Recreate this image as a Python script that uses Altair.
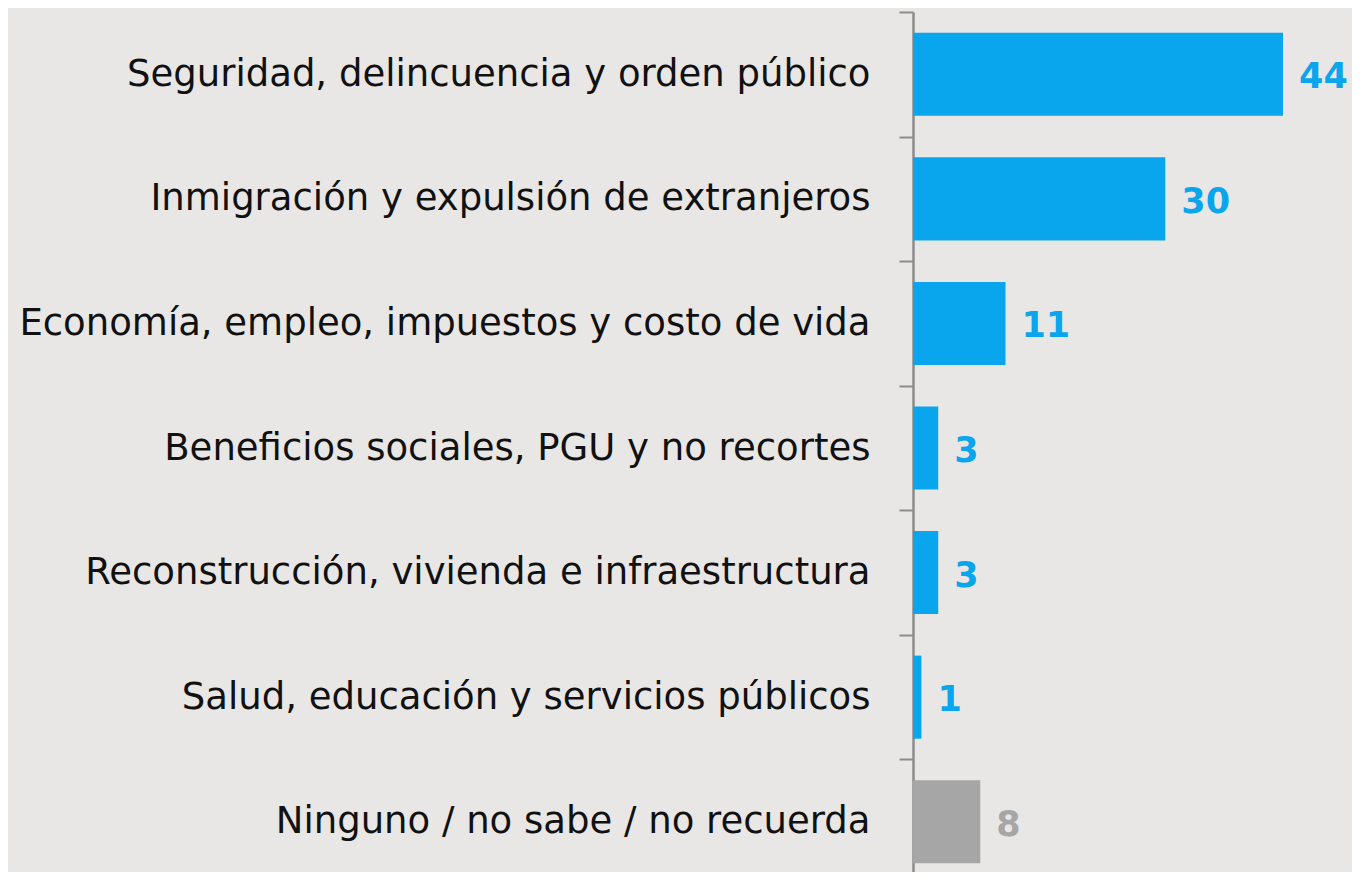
import altair as alt
import pandas as pd

categories = [
    "Seguridad, delincuencia y orden público",
    "Inmigración y expulsión de extranjeros",
    "Economía, empleo, impuestos y costo de vida",
    "Beneficios sociales, PGU y no recortes",
    "Reconstrucción, vivienda e infraestructura",
    "Salud, educación y servicios públicos",
    "Ninguno / no sabe / no recuerda",
]
values = [44, 30, 11, 3, 3, 1, 8]
groups = ["tema", "tema", "tema", "tema", "tema", "tema", "ninguno"]

df = pd.DataFrame({"cat": categories, "val": values, "grp": groups})

FONT = "DejaVu Sans"
color_scale = alt.Scale(domain=["tema", "ninguno"], range=["#0aa6ed", "#a6a6a6"])

y = alt.Y("cat:N", sort=categories, title=None,
          scale=alt.Scale(paddingInner=0, paddingOuter=0, range=[0, 872]),
          axis=alt.Axis(tickBand="extent", labelFont=FONT, labelFontSize=37,
                        labelColor="#111111", labelPadding=29, labelLimit=1000,
                        tickSize=14, tickColor="#8c8c8c", tickWidth=2,
                        domainColor="#8c8c8c", domainWidth=2.5))
x = alt.X("val:Q", title=None, axis=None, scale=alt.Scale(domain=[0, 52.2], nice=False))

bars = alt.Chart(df).mark_bar(height=alt.RelativeBandSize(0.667)).encode(
    y=y, x=x, color=alt.Color("grp:N", scale=color_scale, legend=None)
)
labels = alt.Chart(df).mark_text(
    align="left", baseline="middle", dx=16, dy=3, font=FONT, fontSize=35, fontWeight="bold"
).encode(
    y=alt.Y("cat:N", sort=categories), x="val:Q", text="val:Q",
    color=alt.Color("grp:N", scale=color_scale, legend=None)
)

chart = (bars + labels).properties(
    width=439, height=860, background="#e8e7e5",
    padding={"left": 905, "top": 4, "right": 0, "bottom": 0},
    autosize=alt.AutoSizeParams(type="none"),
).configure_view(stroke=None)

chart.save("out.html", embed_options={"renderer": "svg", "actions": False})
